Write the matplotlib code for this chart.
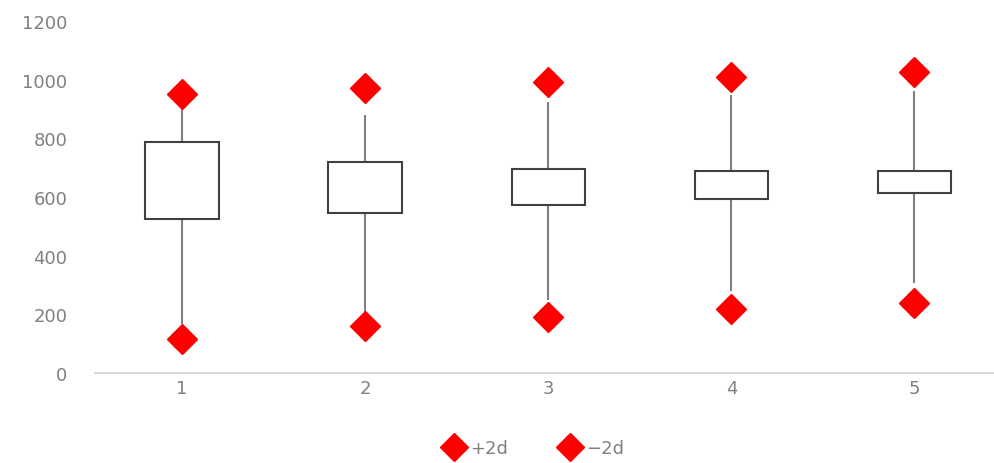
import matplotlib
matplotlib.use("Agg")
import matplotlib.pyplot as plt
from matplotlib.lines import Line2D

# values
groups = [1, 2, 3, 4, 5]
box_low = [524, 547, 574, 594, 614]
box_high = [788, 720, 697, 689, 689]
whisker_low = [167, 209, 249, 278, 306]
whisker_high = [925, 880, 925, 948, 962]
plus_2d = [951, 971, 991, 1010, 1025]
minus_2d = [116, 159, 192, 218, 239]

grey = "#808080"
plt.rcParams['font.family'] = ['DejaVu Sans']

fig = plt.figure(figsize=(9.95, 4.64), dpi=100)
ax = fig.add_axes([95 / 995, 0.194, 900 / 995, 0.7586])

# whiskers
ax.vlines(groups, whisker_low, box_low, color=grey, lw=1.5, zorder=1)
ax.vlines(groups, box_high, whisker_high, color=grey, lw=1.5, zorder=1)

# boxes
heights = [h - l for h, l in zip(box_high, box_low)]
ax.bar(groups, heights, bottom=box_low, width=0.4, color="white",
       edgecolor="#404040", linewidth=1.5, zorder=2)

# +2d / -2d markers
ax.plot(groups, plus_2d, ls="none", marker="D", ms=15, color="#ff0000",
        mec="#ff0000", zorder=3)
ax.plot(groups, minus_2d, ls="none", marker="D", ms=15, color="#ff0000",
        mec="#ff0000", zorder=3)

ax.set_xlim(0.525, 5.44)
ax.set_ylim(0, 1200)
ax.set_yticks(range(0, 1201, 200))
ax.set_xticks(groups)
ax.tick_params(length=0, labelsize=13, labelcolor=grey)
ax.tick_params(axis="y", pad=20)
ax.tick_params(axis="x", pad=4)

for s in ["top", "right", "left"]:
    ax.spines[s].set_visible(False)
ax.spines["bottom"].set_color("#d9d9d9")
ax.spines["bottom"].set_linewidth(1.5)

handles = [Line2D([], [], ls="none", marker="D", ms=14, color="#ff0000"),
           Line2D([], [], ls="none", marker="D", ms=14, color="#ff0000")]
leg = fig.legend(handles, ["+2d", "\u22122d"], loc="center",
                 bbox_to_anchor=(0.537, 0.032), ncol=2, frameon=False,
                 fontsize=13, handlelength=1.1, handletextpad=0.35,
                 columnspacing=2.9)
for t in leg.get_texts():
    t.set_color(grey)

fig.savefig("out.png", dpi=100)
